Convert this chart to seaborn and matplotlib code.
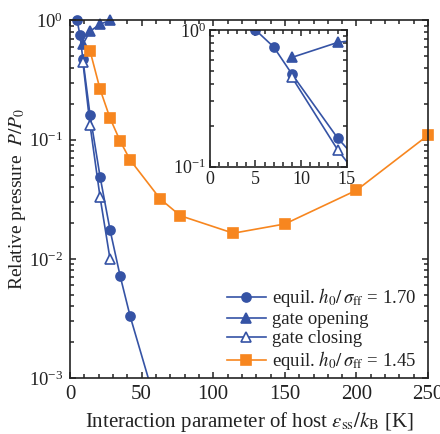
import numpy as np
import matplotlib
matplotlib.use("Agg")
import matplotlib.pyplot as plt
import matplotlib.patches as mpatches
import seaborn as sns
from matplotlib.ticker import LogLocator, MultipleLocator, NullFormatter

# Host interaction parameter eps_ss/k_B [K] and relative pressure P/P0
eq170_eps = [5.0, 7.0, 9.0, 14.0, 21.0, 28.0, 35.0, 42.0, 56.0]
eq170_p = [1.0, 0.75, 0.475, 0.162, 0.049, 0.0174, 0.0072, 0.0033, 0.00088]

open_eps = [9.0, 14.0, 21.0, 28.0]
open_p = [0.63, 0.81, 0.93, 1.0]

close_eps = [9.0, 14.0, 21.0, 28.0]
close_p = [0.45, 0.133, 0.033, 0.0099]

eq145_eps = [14.0, 21.0, 28.0, 35.0, 42.0, 63.0, 77.0, 114.0, 150.0, 200.0, 250.0]
eq145_p = [0.556, 0.265, 0.151, 0.0975, 0.0675, 0.0318, 0.023, 0.0164, 0.0196, 0.0376, 0.109]

labels = [r"equil. $h_0/\,\sigma_{\rm ff}$ = 1.70", "gate opening", "gate closing",
          r"equil. $h_0/\,\sigma_{\rm ff}$ = 1.45"]

BLUE = "#3553a5"
ORANGE = "#f7861f"
INK = "#222222"
MAJOR_LEN, MINOR_LEN = 4.5, 3.0

plt.rcParams.update({
    "font.family": ["Liberation Serif", "DejaVu Serif"],
    "mathtext.fontset": "stix",
    "axes.linewidth": 1.2,
    "axes.edgecolor": INK,
    "text.color": INK,
    "axes.labelcolor": INK,
    "xtick.color": INK,
    "ytick.color": INK,
})

fig = plt.figure(figsize=(4.4, 4.34), dpi=100)
ax = fig.add_axes([0.159, 0.129, 0.814, 0.824])
ins = fig.add_axes([0.477, 0.616, 0.311, 0.315])

series = [
    (eq170_eps, eq170_p, dict(marker="o", color=BLUE, markerfacecolor=BLUE, markeredgecolor=BLUE)),
    (open_eps, open_p, dict(marker="^", color=BLUE, markerfacecolor=BLUE, markeredgecolor=BLUE)),
    (close_eps, close_p, dict(marker="^", color=BLUE, markerfacecolor="white", markeredgecolor=BLUE)),
    (eq145_eps, eq145_p, dict(marker="s", color=ORANGE, markerfacecolor=ORANGE, markeredgecolor=ORANGE)),
]

for (x, y, st), lab in zip(series, labels):
    sns.lineplot(x=x, y=y, ax=ax, label=lab, linewidth=1.2, markersize=6.5,
                 markeredgewidth=1.2, **st)

# zoomed view of the low-eps region (blue series only)
for x, y, st in series[:3]:
    sns.lineplot(x=x, y=y, ax=ins, linewidth=1.2, markersize=6.5,
                 markeredgewidth=1.2, legend=False, **st)


def clip_open_top(axis):
    # clip at the bottom/sides of the frame but let markers sitting on the top edge show whole
    box = mpatches.Rectangle((-0.03, 0.0), 1.06, 1.06, transform=axis.transAxes,
                             facecolor="none", edgecolor="none")
    for ln in axis.get_lines():
        ln.set_clip_path(box)


clip_open_top(ax)


def style_log_axis(axis, xmajor, xminor):
    axis.set_yscale("log")
    axis.xaxis.set_major_locator(MultipleLocator(xmajor))
    axis.xaxis.set_minor_locator(MultipleLocator(xminor))
    axis.yaxis.set_major_locator(LogLocator(base=10, numticks=10))
    axis.yaxis.set_minor_locator(LogLocator(base=10, subs=np.arange(2, 10), numticks=20))
    axis.yaxis.set_minor_formatter(NullFormatter())
    # top/right ticks drawn by the host; bottom/left ones by the overlay strips below
    axis.tick_params(which="both", direction="in", bottom=False, left=False,
                     top=True, right=True, width=1.1, color=INK)
    axis.tick_params(which="major", length=MAJOR_LEN)
    axis.tick_params(which="minor", length=MINOR_LEN)


def inward_strip(host, side, which, length):
    """Invisible axes sharing the host scale whose top/right tick row sits
    `length` points inside the host's bottom/left edge, giving inward ticks there."""
    bb = host.get_position()
    w_in, h_in = fig.get_size_inches()
    other = "minor" if which == "major" else "major"
    if side == "bottom":
        off = length / 72.0 / h_in
        aux = fig.add_axes([bb.x0, bb.y0 + off - 0.01, bb.width, 0.01], sharex=host)
        aux.tick_params(axis="x", which=which, top=True, bottom=False, labeltop=False,
                        labelbottom=False, direction="in", length=length, width=1.1, color=INK)
        aux.tick_params(axis="x", which=other, top=False, bottom=False,
                        labeltop=False, labelbottom=False)
        aux.tick_params(axis="y", which="both", left=False, right=False,
                        labelleft=False, labelright=False)
    else:
        off = length / 72.0 / w_in
        aux = fig.add_axes([bb.x0 + off - 0.01, bb.y0, 0.01, bb.height], sharey=host)
        aux.tick_params(axis="y", which=which, right=True, left=False, labelright=False,
                        labelleft=False, direction="in", length=length, width=1.1, color=INK)
        aux.tick_params(axis="y", which=other, right=False, left=False,
                        labelright=False, labelleft=False)
        aux.tick_params(axis="x", which="both", top=False, bottom=False,
                        labeltop=False, labelbottom=False)
    aux.set_frame_on(False)
    aux.set_zorder(host.get_zorder() + 0.5)
    return aux


style_log_axis(ax, 50, 10)
ax.set_xlim(0, 250)
ax.set_ylim(1e-3, 1)
ax.tick_params(axis="x", labelsize=15, pad=5)
ax.tick_params(axis="y", labelsize=13.5, pad=5)
ax.set_xlabel(r"Interaction parameter of host $\varepsilon_{\rm ss}/k_{\rm B}$ [K]", fontsize=15, labelpad=4)
ax.set_ylabel(r"Relative pressure  $P/P_0$", fontsize=14)
ax.yaxis.set_label_coords(-0.117, 0.5)

style_log_axis(ins, 5, 1)
ins.set_xlim(0, 15)
ins.set_ylim(0.1, 1)
ins.tick_params(labelsize=13, pad=3)
ins.set_xlabel("")
ins.set_ylabel("")
ins.set_zorder(ax.get_zorder() + 1)

for host in (ax, ins):
    for side in ("bottom", "left"):
        inward_strip(host, side, "major", MAJOR_LEN)
        inward_strip(host, side, "minor", MINOR_LEN)

leg = ax.legend(loc="lower right", bbox_to_anchor=(0.987, -0.005), frameon=False, fontsize=13.5,
                handlelength=2.1, handletextpad=0.3, labelspacing=0.1, borderaxespad=0.0)

fig.savefig("out.png", dpi=100)
